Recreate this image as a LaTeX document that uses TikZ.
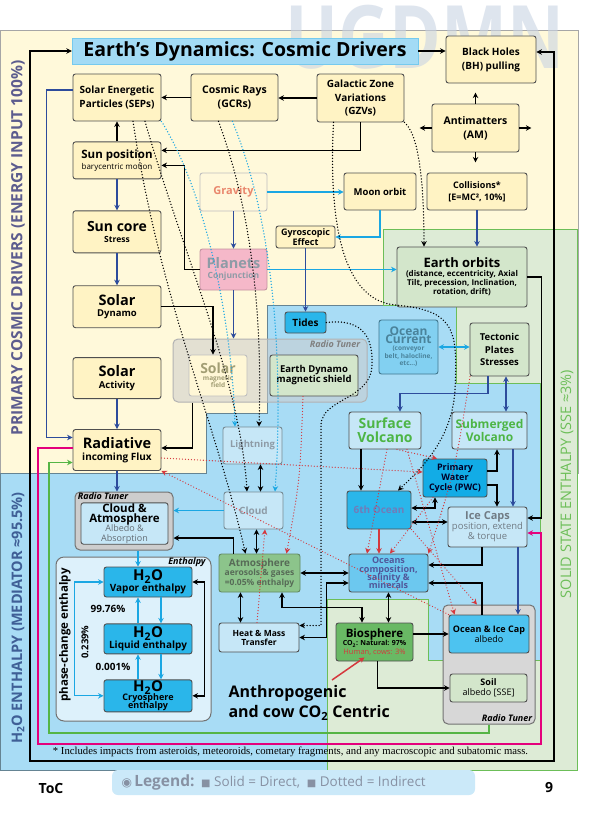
\documentclass[tikz,border=0pt]{standalone}
\usepackage{fontspec}
\setmainfont{Open Sans}
\newfontfamily\notefont{Liberation Serif}
\newfontfamily\symfont{DejaVu Sans}
\usepackage{tikz}
\usetikzlibrary{arrows.meta, positioning, calc}

\definecolor{creambg}{HTML}{FFF9DA}
\definecolor{boxyel}{HTML}{FFF3C4}
\definecolor{boxline}{HTML}{4F4F4F}
\definecolor{skyreg}{HTML}{A8DCF5}
\definecolor{ssereg}{HTML}{DDEBD6}
\definecolor{sseline}{HTML}{6CBE58}
\definecolor{titlefill}{HTML}{A3DBF5}
\definecolor{navyarr}{HTML}{2D4C9C}
\definecolor{cyanarr}{HTML}{1AA7E3}
\definecolor{magarr}{HTML}{E4007C}
\definecolor{greenarr}{HTML}{55B545}
\definecolor{redarr}{HTML}{D5383D}
\definecolor{leafbox}{HTML}{D3E6CB}
\definecolor{paleblue}{HTML}{C6E7F7}
\definecolor{waterbox}{HTML}{2AB6EA}
\definecolor{pwcblue}{HTML}{12ACE6}
\definecolor{oceansbox}{HTML}{6CC8EF}
\definecolor{atmbox}{HTML}{8CC48B}
\definecolor{biobox}{HTML}{69B964}
\definecolor{icealb}{HTML}{4DC3F0}
\definecolor{planetbox}{HTML}{F5B8C9}
\definecolor{fadetxt}{HTML}{8E9BA6}
\definecolor{volcgreen}{HTML}{4DB545}
\definecolor{gravtxt}{HTML}{E9876D}
\definecolor{grpgray}{HTML}{CDCDCD}
\definecolor{enthfill}{HTML}{DDF1FB}
\definecolor{primtxt}{HTML}{5C5C8E}
\definecolor{h2otxt}{HTML}{3F5F96}
\definecolor{legendfill}{HTML}{CBE9F9}
\definecolor{legendtxt}{HTML}{8791A3}
\definecolor{wmark}{HTML}{C9D4E3}

\newcommand{\fsz}[2]{\fontsize{#1}{#2}\selectfont\lineskiplimit=-8pt\relax}

\begin{document}
\begin{tikzpicture}[x=1pt, y=-1pt,
    cbox/.style={rectangle, rounded corners=2.5pt, draw=boxline, line width=0.9pt, fill=boxyel, align=center, inner sep=1pt, font=\bfseries\fsz{10}{11.5}},
    sz/.style 2 args={minimum width=#1pt, minimum height=#2pt},
    grp/.style={rectangle, rounded corners=5pt, draw=boxline!80, line width=1pt, fill=grpgray},
    rtlabel/.style={font=\bfseries\itshape\fsz{9}{10}},
    sidelabel/.style={rotate=90, font=\bfseries\fsz{15.5}{16}},
    arr/.style={-{Stealth[length=5.5pt, width=5.5pt]}, line width=1.5pt},
    darr/.style={{Stealth[length=5.5pt, width=5.5pt]}-{Stealth[length=5.5pt, width=5.5pt]}, line width=1.5pt},
    blk/.style={arr, black},
    blk2/.style={darr, black},
    nav/.style={arr, navyarr, line width=1.3pt},
    nav2/.style={darr, navyarr, line width=1.3pt},
    cy/.style={arr, cyanarr, line width=1.3pt},
    cy2/.style={darr, cyanarr, line width=1.3pt},
    redsolid/.style={arr, redarr},
    dotk/.style={arr, black, line width=1.5pt, line cap=round, dash pattern=on 0pt off 3pt},
    dotc/.style={dotk, cyanarr},
    dotr/.style={arr, redarr, line width=1.3pt, line cap=round, dash pattern=on 0pt off 3pt},
  ]
  \useasboundingbox[fill=white] (0,0) rectangle (590,817);

  % regions
  \fill[creambg, draw=gray!70, line width=0.8pt] (0.5,30) rectangle (578,473);
  \fill[ssereg] (383,229) -- (577,229) -- (577,770) -- (327,770) -- (327,599) -- (428,599) -- (428,660) -- (540,660) -- (540,383) -- (456,383) -- (456,305) -- (383,305) -- cycle;
  \path[fill=skyreg, draw=skyreg!60!black, line width=0.5pt] (0,473) -- (206,473) -- (206,413) -- (267,413) -- (267,305) -- (456,305) -- (456,383) -- (540,383) -- (540,660) -- (428,660) -- (428,599) -- (327,599) -- (327,770) -- (0,770) -- cycle;
  \draw[sseline, line width=1pt] (383,229) -- (577,229) -- (577,770) -- (327,770) -- (327,599) -- (428,599) -- (428,660) -- (540,660) -- (540,383) -- (456,383) -- (456,305) -- (383,305) -- cycle;
  \node[font=\bfseries\fsz{70}{70}, text=wmark, opacity=0.6, anchor=base] (wm) at (425,68) {\scalebox{1}[1.25]{UGDMN}};

  \coordinate (frameTL) at (30,51);
  \coordinate (frameBR) at (554,761);
  \coordinate (magBL) at (38,744);
  \coordinate (magBR) at (541,744);
  \coordinate (grnBL) at (49,733);

  % groups
  \node[grp, sz={194}{63}, fill opacity=0.55, draw=gray!60] (rt1) at (270,370.5) {};
  \node[grp, sz={98}{58}] (rt2) at (124,521) {};
  \node[grp, sz={92}{119}, fill=grpgray!80] (rt3) at (489,664.5) {};
  \node[grp, sz={155}{164}, fill=enthfill, rounded corners=8pt] (enth) at (133.5,639) {};
  \node[rtlabel, text=gray] at (335,344) {Radio Tuner};
  \node[rtlabel] at (103,496.5) {Radio Tuner};
  \node[rtlabel] at (507,718.5) {Radio Tuner};
  \node[rtlabel] at (187,562.5) {Enthalpy};

  % cosmic drivers
  \node[draw=cyanarr!60, fill=titlefill, sz={346}{26}, inner sep=0pt, font=\bfseries\fsz{19.5}{20}] (title) at (245,51) {Earth’s Dynamics: Cosmic Drivers};
  \node[cbox, sz={90}{47}, font=\bfseries\fsz{10}{14}] (bh) at (491,59.5) {Black Holes\\(BH) pulling};
  \node[cbox, sz={88}{47}, font=\bfseries\fsz{10}{13.6}] (sep) at (117,97.5) {Solar Energetic\\Particles (SEPs)};
  \node[cbox, sz={87}{47}, font=\bfseries\fsz{10.5}{14.3}] (cr) at (234.5,97.5) {Cosmic Rays\\(GCRs)};
  \node[cbox, sz={87}{48}, font=\bfseries\fsz{10}{13.7}] (gzv) at (360.5,98) {Galactic Zone\\Variations\\(GZVs)};
  \node[cbox, sz={87}{48}, font=\bfseries\fsz{10.5}{14.3}] (am) at (475.5,128) {Antimatters\\(AM)};
  \node[cbox, sz={100}{37}, font=\bfseries\fsz{9}{12.3}] (coll) at (477,191.5) {Collisions*\\{}[E=MC², 10\%]};
  \node[cbox, sz={72}{37}, font=\bfseries\fsz{9.5}{11}] (moon) at (380,191.5) {Moon orbit};
  \node[cbox, sz={67}{38}, fill=boxyel!60, draw=gray!50, text=gravtxt, font=\bfseries\fsz{11}{12}] (grav) at (233.5,192) {Gravity};
  \node[cbox, sz={59}{22}, font=\bfseries\fsz{9}{10}] (gyro) at (305.5,237) {Gyroscopic\\Effect};
  \node[cbox, sz={67}{41}, fill=planetbox, draw=planetbox!80!black, text=fadetxt, font=\bfseries\fsz{8.5}{10}] (planets) at (233.5,269.5) {{\fsz{14.5}{12}Planets}\\Conjunction};
  \node[cbox, sz={130}{60}, fill=leafbox, font=\bfseries\fsz{8}{9}] (eorb) at (462,277) {{\fsz{13}{12}Earth orbits}\\(distance, eccentricity, Axial\\Tilt, precession, Inclination,\\rotation, drift)};

  % sun column
  \node[cbox, sz={88}{37}, below=20pt of sep, font=\fsz{8}{11}] (sunpos) {{\bfseries\fsz{11.5}{11}Sun position}\\barycentric motion};
  \node[cbox, sz={88}{42}, below=31pt of sunpos, font=\bfseries\fsz{8.5}{11}] (suncore) {{\fsz{14}{12}Sun core}\\Stress};
  \node[cbox, sz={88}{42}, below=32pt of suncore, font=\bfseries\fsz{9.5}{11.5}] (dynamo) {{\fsz{14.5}{12}Solar}\\Dynamo};
  \node[cbox, sz={88}{41}, below=29pt of dynamo, font=\bfseries\fsz{9.5}{11.5}] (activity) {{\fsz{14.5}{12}Solar}\\Activity};
  \node[cbox, sz={88}{41}, below=30pt of activity, font=\bfseries\fsz{10}{11.5}] (rad) {{\fsz{14.5}{12}Radiative}\\incoming Flux};

  % middle
  \node[cbox, sz={41}{21}, fill=waterbox, font=\bfseries\fsz{10}{11}] (tides) at (305.5,322.5) {Tides};
  \node[cbox, sz={58}{41}, fill=boxyel!70, draw=gray!50, text=black!30!yellow!40!gray, font=\bfseries\fsz{6.5}{7}] (solmag) at (218,375.5) {{\fsz{14}{11}Solar}\\magnetic\\field};
  \node[cbox, sz={88}{41}, fill=leafbox, font=\bfseries\fsz{9.5}{10}] (edyn) at (314,375.5) {Earth Dynamo\\magnetic shield};
  \node[cbox, sz={59}{54}, fill=oceansbox!85, draw=oceansbox!60!black, text=black!20!cyanarr!50!gray, font=\bfseries\fsz{6.5}{7.5}] (ocur) at (408.5,347) {{\fsz{12}{10.5}Ocean}\\{\fsz{12}{10.5}Current}\\(conveyor\\belt, halocline,\\etc...)};
  \node[cbox, sz={59}{53}, fill=leafbox, font=\bfseries\fsz{9.5}{12.5}] (tect) at (499.5,349.5) {Tectonic\\Plates\\Stresses};
  \node[cbox, sz={59}{37}, fill=paleblue, draw=paleblue!60!black, text=fadetxt, font=\bfseries\fsz{9.5}{11}] (light) at (252.5,445.5) {Lightning};
  \node[cbox, sz={72}{37}, fill=paleblue, text=volcgreen, font=\bfseries\fsz{14}{14}] (surf) at (385,430.5) {Surface\\Volcano};
  \node[cbox, sz={75}{37}, fill=paleblue, text=volcgreen, font=\bfseries\fsz{12}{13}] (subm) at (489.5,430.5) {Submerged\\Volcano};
  \node[cbox, sz={64}{38}, fill=pwcblue, text=black!85!blue, font=\bfseries\fsz{9}{10}] (pwc) at (455,478) {Primary\\Water\\Cycle (PWC)};
  \node[cbox, sz={64}{38}, fill=waterbox, text=fadetxt!80!blue, font=\bfseries\fsz{10}{11}] (sixth) at (379,510) {6th Ocean};
  \node[cbox, sz={79}{40}, fill=paleblue, text=fadetxt!80!black, font=\fsz{9.5}{10}] (ice) at (487.5,527) {{\bfseries\fsz{11}{10}Ice Caps}\\position, extend\\\& torque};
  \node[cbox, sz={79}{38}, fill=oceansbox, text=fadetxt!70!blue!80!black, font=\bfseries\fsz{9}{8.2}] (oceans) at (388.5,573) {Oceans\\composition,\\salinity \&\\minerals};
  \node[cbox, sz={59}{37}, fill=paleblue, draw=paleblue!60!black, text=fadetxt, font=\bfseries\fsz{10}{11}] (cloud) at (253.5,510.5) {Cloud};

  % lower left
  \node[cbox, sz={87}{41}, fill=paleblue, font=\fsz{9}{9.5}] (cloudatm) at (124.5,523.5) {{\bfseries\fsz{11.5}{11}Cloud \&}\\{\bfseries\fsz{11.5}{11}Atmosphere}\\\textcolor{fadetxt!70!black}{Albedo \&}\\\textcolor{fadetxt!70!black}{Absorption}};
  \node[cbox, sz={88}{30}, fill=waterbox, font=\bfseries\fsz{10}{10.5}] (vapor) at (148,582) {{\fsz{15}{12}H\textsubscript{2}O}\\Vapor enthalpy};
  \node[cbox, sz={88}{30}, fill=waterbox, font=\bfseries\fsz{10}{10.5}, below=26pt of vapor] (liq) {{\fsz{15}{12}H\textsubscript{2}O}\\Liquid enthalpy};
  \node[cbox, sz={88}{31}, fill=waterbox, font=\bfseries\fsz{9}{8.5}, below=25pt of liq] (cryo) {{\fsz{15}{12}H\textsubscript{2}O}\\Cryosphere\\enthalpy};
  \node[rotate=90, font=\bfseries\fsz{11.5}{12}] (pce) at (65,635) {phase-change enthalpy};
  \node[font=\bfseries\fsz{10}{11}] (pct1) at (108,609) {99.76\%};
  \node[rotate=90, font=\bfseries\fsz{9.5}{10}] (pct2) at (85,642) {0.239\%};
  \node[font=\bfseries\fsz{10}{11}] (pct3) at (113,667) {0.001\%};

  % lower middle
  \node[cbox, sz={81}{38}, fill=atmbox, draw=atmbox!70!black, text=atmbox!50!black!70!gray, font=\bfseries\fsz{8.5}{9.5}] (atm) at (259.5,573) {{\fsz{10}{9}Atmosphere}\\aerosols \& gases\\=0.05\% enthalpy};
  \node[cbox, sz={80}{29}, fill=paleblue, font=\bfseries\fsz{8.5}{9}] (heat) at (259,637.5) {Heat \& Mass\\Transfer};
  \node[cbox, sz={77}{38}, fill=biobox, font=\bfseries\fsz{7}{8.5}] (bio) at (374.5,642) {{\fsz{11.5}{10}Biosphere}\\CO\textsubscript{2}: Natural: 97\%\\\textcolor{redarr}{\mdseries\fsz{7.5}{8}Human, cows: 3\%}};
  \node[cbox, sz={80}{38}, fill=icealb, font=\bfseries\fsz{9}{10}] (oceanice) at (489,634) {Ocean \& Ice Cap\\\mdseries albedo};
  \node[cbox, sz={77}{28}, fill=leafbox, font=\bfseries\fsz{9}{10}] (soil) at (488.5,688) {Soil\\\mdseries albedo [SSE]};
  \node[anchor=north west, align=left, font=\bfseries\fsz{16}{20}] (anthro) at (225,682) {Anthropogenic\\and cow CO\textsubscript{2} Centric};

  % frames
  \draw[blk2] (title.west) -- (frameTL) |- (frameBR) |- ([yshift=7.5pt]bh.east);
  \draw[magarr, -{Stealth[length=5.5pt, width=5.5pt]}, line width=1.5pt] ([yshift=2pt]rad.west) -| (magBL) -- (magBR) |- ([yshift=-6pt]ice.east);
  \draw[greenarr, -{Stealth[length=5.5pt, width=5.5pt]}, line width=1.5pt] (rt3.south) |- (grnBL) |- ([yshift=-12.5pt]rad.west);

  % top connectors
  \draw[blk] (title.east) -- (title.east -| bh.west);
  \draw[blk] (cr.west) -- (sep.east);
  \draw[blk] (gzv.west) -- (gzv.west -| cr.east);
  \draw[blk] (gzv.south) |- ([yshift=10pt]sunpos.east);
  \draw[blk] (planets.west) -- ++(-15,0) |- ([yshift=-5pt]sunpos.east);
  \draw[blk] (sunpos.north) -- (sep.south);
  \draw[blk] (am.north) -- ++(0,-11);
  \draw[blk] (am.south) -- ++(0,10);
  \draw[blk] (am.west) -- ++(-12,0);
  \draw[blk] (am.east) -- ++(12,0);
  \draw[nav] (sunpos.south) -- (suncore.north);
  \draw[nav] (suncore.south) -- (dynamo.north);
  \draw[nav] (activity.south) -- (rad.north);
  \draw[nav] (rad.south) -- (rad.south |- rt2.north);
  \draw[nav] ([yshift=7.5pt]sep.west) -- ++(-26,0) |- ([yshift=12.5pt]rad.west);
  \draw[blk] (dynamo.east) -| ([xshift=-5pt]solmag.north);
  \draw[blk] ([xshift=20pt]rt1.south west) |- ([yshift=2pt]rad.east);
  \draw[nav] (grav.south) -- (planets.north);
  \draw[nav] (planets.south) -- (planets.south |- rt1.north);
  \draw[cy] (grav.east) -- (grav.east -| moon.west);
  \draw[cy] (moon.south) |- (gyro.east);
  \draw[cy] (planets.east) -- (planets.east -| eorb.west);
  \draw[nav] (gyro.south) -- (tides.north);
  \draw[nav] (coll.south) -- (coll.south |- eorb.north);

  % tectonic and volcano connectors
  \draw[cy2] (ocur.east) -- (ocur.east -| tect.west);
  \draw[nav] ([xshift=-11.5pt]tect.south) -- ++(0,17) -| ([xshift=15pt]surf.north);
  \draw[nav2] ([xshift=6.5pt]tect.south) -- ([xshift=6.5pt]tect.south |- subm.north);
  \draw[nav] ([xshift=23.5pt]subm.south) -- ([xshift=23.5pt]subm.south |- ice.north);
  \draw[nav] ([xshift=30.5pt]ice.south) -- ([xshift=30.5pt]ice.south |- oceanice.north);
  \draw[blk] ([xshift=-24pt]surf.south) -- ([xshift=-24pt]surf.south |- sixth.north);
  \draw[blk] ([yshift=7pt]pwc.east) -| ([xshift=7.5pt]subm.south);
  \draw[blk] ([yshift=-7pt]pwc.east) -| ([xshift=9.5pt]ice.north);
  \draw[blk2] ([yshift=2pt]sixth.east) -| ([xshift=-20pt]pwc.south);
  \draw[blk2] ([yshift=-12pt]sixth.east) -- ([yshift=-12pt]sixth.east -| ice.west);
  \draw[blk] ([xshift=-5.5pt]ice.south) |- ([yshift=8pt]oceans.east);
  \draw[blk] ([xshift=-7pt]oceanice.north) |- ([yshift=-10pt]oceans.east);
  \draw[blk] (eorb.east) -- ++(14,0) |- ([yshift=9pt]ice.east);
  \draw[redsolid] (sixth.south) -- (sixth.south |- oceans.north);

  % cloud and enthalpy connectors
  \draw[blk2] ([xshift=8pt]light.south) -- ([xshift=8pt]light.south |- cloud.north);
  \draw[blk2] ([xshift=3pt]cloud.south) -- ([xshift=3pt]cloud.south |- atm.north);
  \draw[cy] (cloud.west) -- (cloud.west -| rt2.east);
  \draw[blk] ([xshift=-26pt]atm.north) |- ([yshift=-17pt]rt2.east);
  \draw[cy] ([xshift=-10pt]vapor.north |- rt2.south) -- ([xshift=-10pt]vapor.north);
  \draw[cy] ([xshift=-10pt]liq.north) -- ([xshift=-10pt]vapor.south);
  \draw[cy] ([xshift=13pt]vapor.south) -- ([xshift=13pt]liq.north);
  \draw[cy] ([xshift=-10pt]cryo.north) -- ([xshift=-10pt]liq.south);
  \draw[cy] ([xshift=13pt]liq.south) -- ([xshift=13pt]cryo.north);
  \draw[cy2] (vapor.west) -- ++(-29,0) |- (cryo.west);
  \draw[blk2] (vapor.east) -- ++(12,0) |- (cryo.east);

  % atmosphere, oceans, biosphere
  \draw[blk2] (atm.east) -- (atm.east -| oceans.west);
  \draw[blk2] ([xshift=-19pt]atm.south) -- ([xshift=-19pt]atm.south |- heat.north);
  \draw[blk2] ([xshift=22.5pt]atm.south) -- ++(0,15) -| ([xshift=-12.5pt]bio.north);
  \draw[blk2] (oceans.south) -- (oceans.south |- bio.north);
  \draw[blk2] ([yshift=-10pt]oceans.west) -- ++(-22,0) |- (heat.east);
  \draw[blk] ([yshift=8pt]bio.east) -- ([yshift=8pt]bio.east -| oceanice.west);
  \draw[blk] ([xshift=3pt]bio.south) |- (soil.west);
  \draw[redsolid] ($(anthro.north west)+(107,-2)$) -- ([xshift=-10pt,yshift=4pt]bio.south);

  % indirect links
  \draw[dotk] (gzv.south east) .. controls (420,135) and (424,190) .. ([xshift=-38pt]eorb.north);
  \draw[dotk] ([xshift=-27pt]gzv.south) .. controls (328,230) and (345,300) .. (395,305) .. controls (455,310) and (458,330) .. (455,390) .. controls (452,440) and (420,470) .. ([xshift=19pt]sixth.north);
  \draw[dotk] (tides.east) .. controls (365,318) and (373,340) .. (372,365) .. controls (371,400) and (322,398) .. (321,425) |- ([yshift=12pt]heat.east);
  \draw[dotk] ([xshift=16pt]sep.south) .. controls (160,300) and (215,420) .. ([xshift=-14pt]atm.north);
  \draw[dotk] ([xshift=28pt]sep.south) .. controls (185,260) and (240,380) .. ([xshift=-6.5pt]cloud.north);
  \draw[dotc] (sep.south east) .. controls (205,190) and (232,320) .. ([xshift=-17.5pt]light.north);
  \draw[dotk] ([xshift=-16pt]cr.south) .. controls (255,220) and (262,330) .. ([xshift=6.5pt]light.north);
  \draw[dotc] ([xshift=-2pt]cr.south) .. controls (285,250) and (280,420) .. ([xshift=21.5pt]cloud.north);
  \draw[dotr] ([yshift=-8pt]rad.east) -- ([yshift=6pt]pwc.west);
  \draw[dotr] (oceanice.north west) -- (rad.south east);
  \draw[dotr] ([xshift=-11pt]edyn.south) .. controls (300,480) .. ([xshift=27pt]atm.north);
  \draw[dotr] ([xshift=-2pt]heat.north) -- ([xshift=11.5pt]cloud.south);
  \draw[dotr] ([xshift=2pt]surf.south) -- ([xshift=-21.5pt]oceans.north);
  \draw[dotr] ([xshift=12pt]surf.south) -- ([xshift=-18pt]pwc.north);
  \draw[dotr] ([xshift=-22pt]pwc.south) -- ([xshift=1.5pt]oceans.north);
  \draw[dotr] ([xshift=-29.5pt]tect.south) .. controls (455,470) .. (oceans.north east);
  \draw[dotr] (sixth.south east) -- ([xshift=-12pt]rt3.north);
  \draw[dotr] ([xshift=22pt]surf.south) -- ([xshift=6pt]oceanice.north west);

  % side labels and footer
  \node[sidelabel, text=primtxt] (primlab) at (18,248) {PRIMARY COSMIC DRIVERS (ENERGY INPUT 100\%)};
  \node[sidelabel, text=h2otxt, font=\bfseries\fsz{14.5}{15}] (h2olab) at (18,618) {H\textsubscript{2}O ENTHALPY (MEDIATOR ≈95.5\%)};
  \node[sidelabel, text=sseline, font=\fsz{14.5}{15}] (sselab) at (567,484) {SOLID STATE ENTHALPY (SSE ≈3\%)};
  \node[font=\notefont\fsz{10.7}{11}] (note) at (290.5,752) {* Includes impacts from asteroids, meteoroids, cometary fragments, and any macroscopic and subatomic mass.};
  \fill[legendfill, rounded corners=6pt] (112,770) rectangle (475,795);
  \node[anchor=west, text=legendtxt, font=\fsz{13.5}{14}] (legend) at (118,782.5) {{\symfont\fsz{12}{12}◉}\,{\bfseries\fsz{15.5}{16}Legend:}\enspace{\symfont\fsz{10}{10}■} Solid = Direct,\enspace{\symfont\fsz{10}{10}■} Dotted = Indirect};
  \node[font=\bfseries\fsz{14}{15}] (toc) at (51,788) {ToC};
  \node[font=\bfseries\fsz{14}{15}] (page) at (549,788) {9};
\end{tikzpicture}
\end{document}
